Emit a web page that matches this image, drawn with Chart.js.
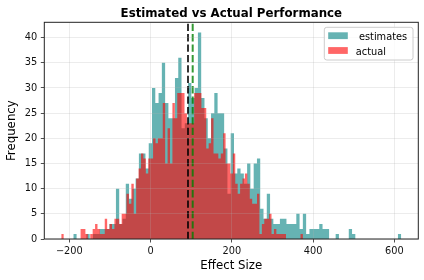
<!DOCTYPE html>
<html>
<head>
<meta charset="utf-8">
<script src="https://cdn.jsdelivr.net/npm/chart.js@4.4.0/dist/chart.umd.min.js"></script>
<style>
  html, body { margin: 0; padding: 0; background: #fff; }
  #wrap { width: 424px; height: 280px; }
</style>
</head>
<body>
<div id="wrap"><canvas id="chart_effectSize" width="424" height="280"></canvas></div>
<script>
// histogram bins (100 bins each)
const estimatesStart = -190.3;
const estimatesBinWidth = 8.073;
const estimatesCounts = [
  1, 0, 0, 0, 1, 0, 1, 1, 2, 2,
  2, 3, 3, 10, 3, 4, 11, 8, 10, 12,
  17, 17, 14, 19, 30, 27, 29, 35, 27, 24,
  24, 32, 36, 22, 23, 31, 28, 30, 41, 28,
  24, 20, 25, 29, 25, 25, 18, 9, 21, 13,
  14, 13, 11, 15, 10, 15, 16, 6, 4, 9,
  4, 3, 3, 4, 4, 3, 3, 3, 5, 2,
  5, 1, 2, 2, 2, 3, 2, 2, 0, 0,
  1, 0, 0, 0, 2, 1, 0, 0, 0, 0,
  0, 0, 0, 0, 0, 0, 0, 0, 0, 1
];
const actualStart = -220;
const actualBinWidth = 5.95;
const actualCounts = [
  1, 0, 0, 0, 0, 0, 0, 0, 2, 2,
  1, 0, 1, 2, 3, 2, 1, 1, 4, 2,
  3, 2, 4, 4, 3, 5, 5, 9, 7, 11,
  5, 12, 14, 17, 16, 13, 16, 16, 20, 19,
  20, 20, 27, 15, 22, 15, 27, 24, 29, 29,
  29, 25, 23, 23, 23, 29, 29, 29, 26, 26,
  18, 19, 24, 17, 17, 16, 17, 21, 15, 15,
  13, 17, 11, 9, 11, 12, 13, 11, 8, 7,
  7, 9, 1, 3, 4, 4, 5, 1, 2, 1,
  1, 1, 1, 0, 0, 0, 0, 0, 0, 1
];
const seriesLabels = [' estimates', 'actual'];
const meanActual = 92;
const meanEstimates = 103.6;
const xTicks = [-200, 0, 200, 400, 600];
const yTicks = [0, 5, 10, 15, 20, 25, 30, 35, 40];

const X_MIN = -261.7, X_MAX = 659, Y_MAX = 43.05;

Chart.defaults.font.family = "'DejaVu Sans', sans-serif";
Chart.defaults.color = '#111';

function stepPoints(start, width, counts) {
  const pts = counts.map((c, i) => ({ x: start + i * width, y: c }));
  pts.push({ x: start + counts.length * width, y: counts[counts.length - 1] });
  return pts;
}

function vline(x) {
  return [{ x: x, y: 0 }, { x: x, y: Y_MAX }];
}

const minus = (v) => String(v).replace('-', '\u2212');

var chart_effectSize = new Chart(document.getElementById('chart_effectSize'), {
  type: 'line',
  data: {
    datasets: [
      {
        label: seriesLabels[0],
        data: stepPoints(estimatesStart, estimatesBinWidth, estimatesCounts),
        stepped: true,
        fill: 'origin',
        backgroundColor: 'rgba(0,128,128,0.6)',
        borderColor: 'rgba(0,0,0,0)',
        borderWidth: 0,
        pointRadius: 0,
        order: 4
      },
      {
        label: seriesLabels[1],
        data: stepPoints(actualStart, actualBinWidth, actualCounts),
        stepped: true,
        fill: 'origin',
        backgroundColor: 'rgba(255,0,0,0.6)',
        borderColor: 'rgba(0,0,0,0)',
        borderWidth: 0,
        pointRadius: 0,
        order: 3
      },
      {
        label: 'mean actual',
        data: vline(meanActual),
        borderColor: 'rgba(0,0,0,0.8)',
        borderWidth: 2,
        borderDash: [7.3, 3.1],
        pointRadius: 0,
        fill: false,
        order: 2
      },
      {
        label: 'mean estimates',
        data: vline(meanEstimates),
        borderColor: 'rgba(0,128,0,0.8)',
        borderWidth: 2,
        borderDash: [7.3, 3.1],
        pointRadius: 0,
        fill: false,
        order: 1
      }
    ]
  },
  options: {
    animation: false,
    responsive: false,
    events: [],
    layout: { padding: { top: 22.3, right: 5.7, bottom: 0, left: 0 } },
    plugins: {
      legend: { display: false },
      title: { display: false },
      tooltip: { enabled: false }
    },
    scales: {
      x: {
        type: 'linear',
        min: X_MIN,
        max: X_MAX,
        afterBuildTicks: (axis) => { axis.ticks = xTicks.map(v => ({ value: v })); },
        afterFit: (axis) => { axis.height = 41; },
        ticks: {
          font: { size: 9.8 },
          padding: 3,
          maxRotation: 0,
          callback: (v) => minus(v)
        },
        grid: {
          z: 1,
          color: 'rgba(176,176,176,0.3)',
          lineWidth: 0.8,
          tickLength: 3.5,
          tickColor: '#222',
          tickWidth: 0.8
        },
        border: { display: false },
        title: {
          display: true,
          text: 'Effect Size',
          font: { size: 11.8 },
          color: '#000',
          padding: { top: 0, bottom: 6.9 }
        }
      },
      y: {
        type: 'linear',
        min: 0,
        max: Y_MAX,
        afterBuildTicks: (axis) => { axis.ticks = yTicks.map(v => ({ value: v })); },
        afterFit: (axis) => { axis.width = 44.3; },
        ticks: {
          font: { size: 9.8 },
          padding: 3.5
        },
        grid: {
          z: 1,
          color: 'rgba(176,176,176,0.3)',
          lineWidth: 0.8,
          tickLength: 3.5,
          tickColor: '#222',
          tickWidth: 0.8
        },
        border: { display: false },
        title: {
          display: true,
          text: 'Frequency',
          font: { size: 11.8 },
          color: '#000',
          padding: { top: 4.9, bottom: 0 }
        }
      }
    }
  },
  plugins: [{
    id: 'decor',
    beforeDraw: (chart) => {
      const ctx = chart.ctx;
      ctx.save();
      ctx.fillStyle = 'white';
      ctx.fillRect(0, 0, chart.width, chart.height);
      ctx.restore();
    },
    afterDraw: (chart) => {
      const ctx = chart.ctx;
      const a = chart.chartArea;
      ctx.save();
      // axes frame
      ctx.strokeStyle = '#222';
      ctx.lineWidth = 1;
      ctx.strokeRect(a.left, a.top, a.right - a.left, a.bottom - a.top);

      // title centred over the plot area
      ctx.fillStyle = '#000';
      ctx.font = "bold 11.8px 'DejaVu Sans', sans-serif";
      ctx.textAlign = 'center';
      ctx.textBaseline = 'alphabetic';
      ctx.fillText('Estimated vs Actual Performance', (a.left + a.right) / 2, 16.7);

      // legend box, upper right
      const bx = a.right - 94, by = a.top + 5, bw = 88.7, bh = 32.7;
      ctx.beginPath();
      ctx.roundRect(bx, by, bw, bh, 2.5);
      ctx.fillStyle = 'rgba(255,255,255,0.8)';
      ctx.fill();
      ctx.strokeStyle = '#cccccc';
      ctx.lineWidth = 1;
      ctx.stroke();
      ctx.font = "9.8px 'DejaVu Sans', sans-serif";
      ctx.textAlign = 'left';
      const rows = [35.7, 50.5];
      [0, 1].forEach((k) => {
        const ds = chart.data.datasets[k];
        const cy = rows[k];
        ctx.fillStyle = ds.backgroundColor;
        ctx.fillRect(bx + 3.9, cy - 3.4, 19.6, 6.8);
        ctx.fillStyle = '#000';
        ctx.fillText(ds.label, bx + 31.5, cy + 4.7);
      });
      ctx.restore();
    }
  }]
});
</script>
</body>
</html>
